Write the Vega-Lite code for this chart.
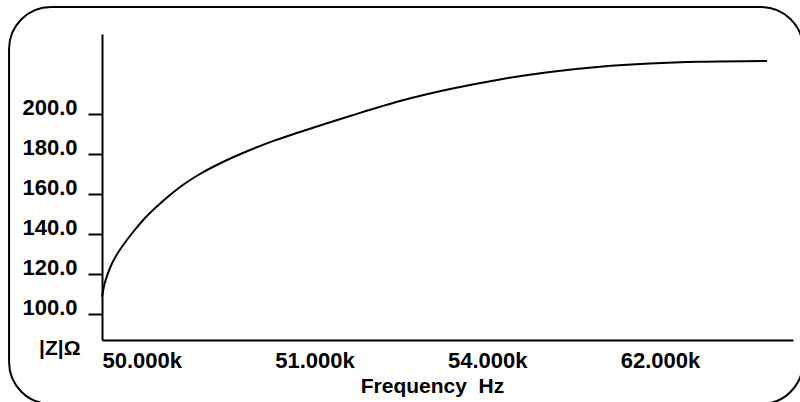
{
  "$schema": "https://vega.github.io/schema/vega-lite/v6.json",
  "width": 691,
  "height": 306,
  "autosize": {"type": "none"},
  "padding": {"left": 102, "top": 34, "right": 7, "bottom": 62},
  "background": "white",
  "config": {
    "view": {"stroke": null},
    "font": "Liberation Sans",
    "axis": {
      "labelFont": "Liberation Sans",
      "labelFontWeight": "bold",
      "labelFontSize": 22,
      "labelColor": "black",
      "titleFont": "Liberation Sans",
      "titleFontWeight": "bold",
      "titleFontSize": 21,
      "titleColor": "black",
      "domainColor": "black",
      "domainWidth": 2,
      "tickColor": "black",
      "tickWidth": 2,
      "grid": false
    }
  },
  "datasets": {
    "sweep": [
      {"step": 0, "impedance": 108.5},
      {"step": 1.2, "impedance": 114},
      {"step": 2.3, "impedance": 117.5},
      {"step": 4.6, "impedance": 123},
      {"step": 8.1, "impedance": 129},
      {"step": 12.7, "impedance": 135},
      {"step": 18.0, "impedance": 141},
      {"step": 24.9, "impedance": 148},
      {"step": 35.3, "impedance": 156.5},
      {"step": 45.2, "impedance": 163.5},
      {"step": 56.7, "impedance": 170},
      {"step": 71.2, "impedance": 176.5},
      {"step": 85.7, "impedance": 182},
      {"step": 100.1, "impedance": 186.8},
      {"step": 114.6, "impedance": 191},
      {"step": 143.6, "impedance": 199},
      {"step": 172.5, "impedance": 206.5},
      {"step": 201.5, "impedance": 212.5},
      {"step": 230.4, "impedance": 217.3},
      {"step": 259.3, "impedance": 221},
      {"step": 288.3, "impedance": 223.6},
      {"step": 317.2, "impedance": 225.2},
      {"step": 346.2, "impedance": 226.1},
      {"step": 385.0, "impedance": 226.5}
    ]
  },
  "layer": [
    {
      "data": {"values": [{"frame": "border"}]},
      "mark": {"type": "rect", "filled": false, "color": "black", "strokeWidth": 2, "cornerRadius": 42, "clip": false},
      "encoding": {
        "x": {"datum": -53.8, "type": "quantitative"},
        "x2": {"datum": 405.8},
        "y": {"datum": 253.5, "type": "quantitative"},
        "y2": {"datum": 55}
      }
    },
    {
      "data": {"name": "sweep"},
      "mark": {"type": "line", "color": "black", "strokeWidth": 2, "interpolate": "monotone"},
      "encoding": {
        "x": {
          "field": "step",
          "type": "quantitative",
          "scale": {"domain": [0, 400], "nice": false, "zero": false},
          "axis": {
            "values": [0, 100, 200, 300],
            "ticks": false,
            "tickSize": 0,
            "labelAlign": "left",
            "labelBaseline": "top",
            "labelPadding": 10,
            "labelFlush": false,
            "labelOverlap": false,
            "labelExpr": "datum.value == 0 ? '50.000k' : datum.value == 100 ? '51.000k' : datum.value == 200 ? '54.000k' : '62.000k'",
            "title": "Frequency\u00a0\u00a0Hz",
            "titleX": 330,
            "titleY": 52,
            "titleAlign": "center",
            "titleBaseline": "alphabetic"
          }
        },
        "y": {
          "field": "impedance",
          "type": "quantitative",
          "scale": {"domain": [87, 240], "nice": false, "zero": false},
          "axis": {
            "values": [100, 120, 140, 160, 180, 200],
            "format": ".1f",
            "tickSize": 14,
            "labelPadding": 11,
            "labelBaseline": "alphabetic",
            "labelAlign": "right",
            "title": "|Z|Ω",
            "titleAngle": 0,
            "titleX": -22,
            "titleY": 320,
            "titleAlign": "right",
            "titleBaseline": "alphabetic"
          }
        }
      }
    }
  ]
}
